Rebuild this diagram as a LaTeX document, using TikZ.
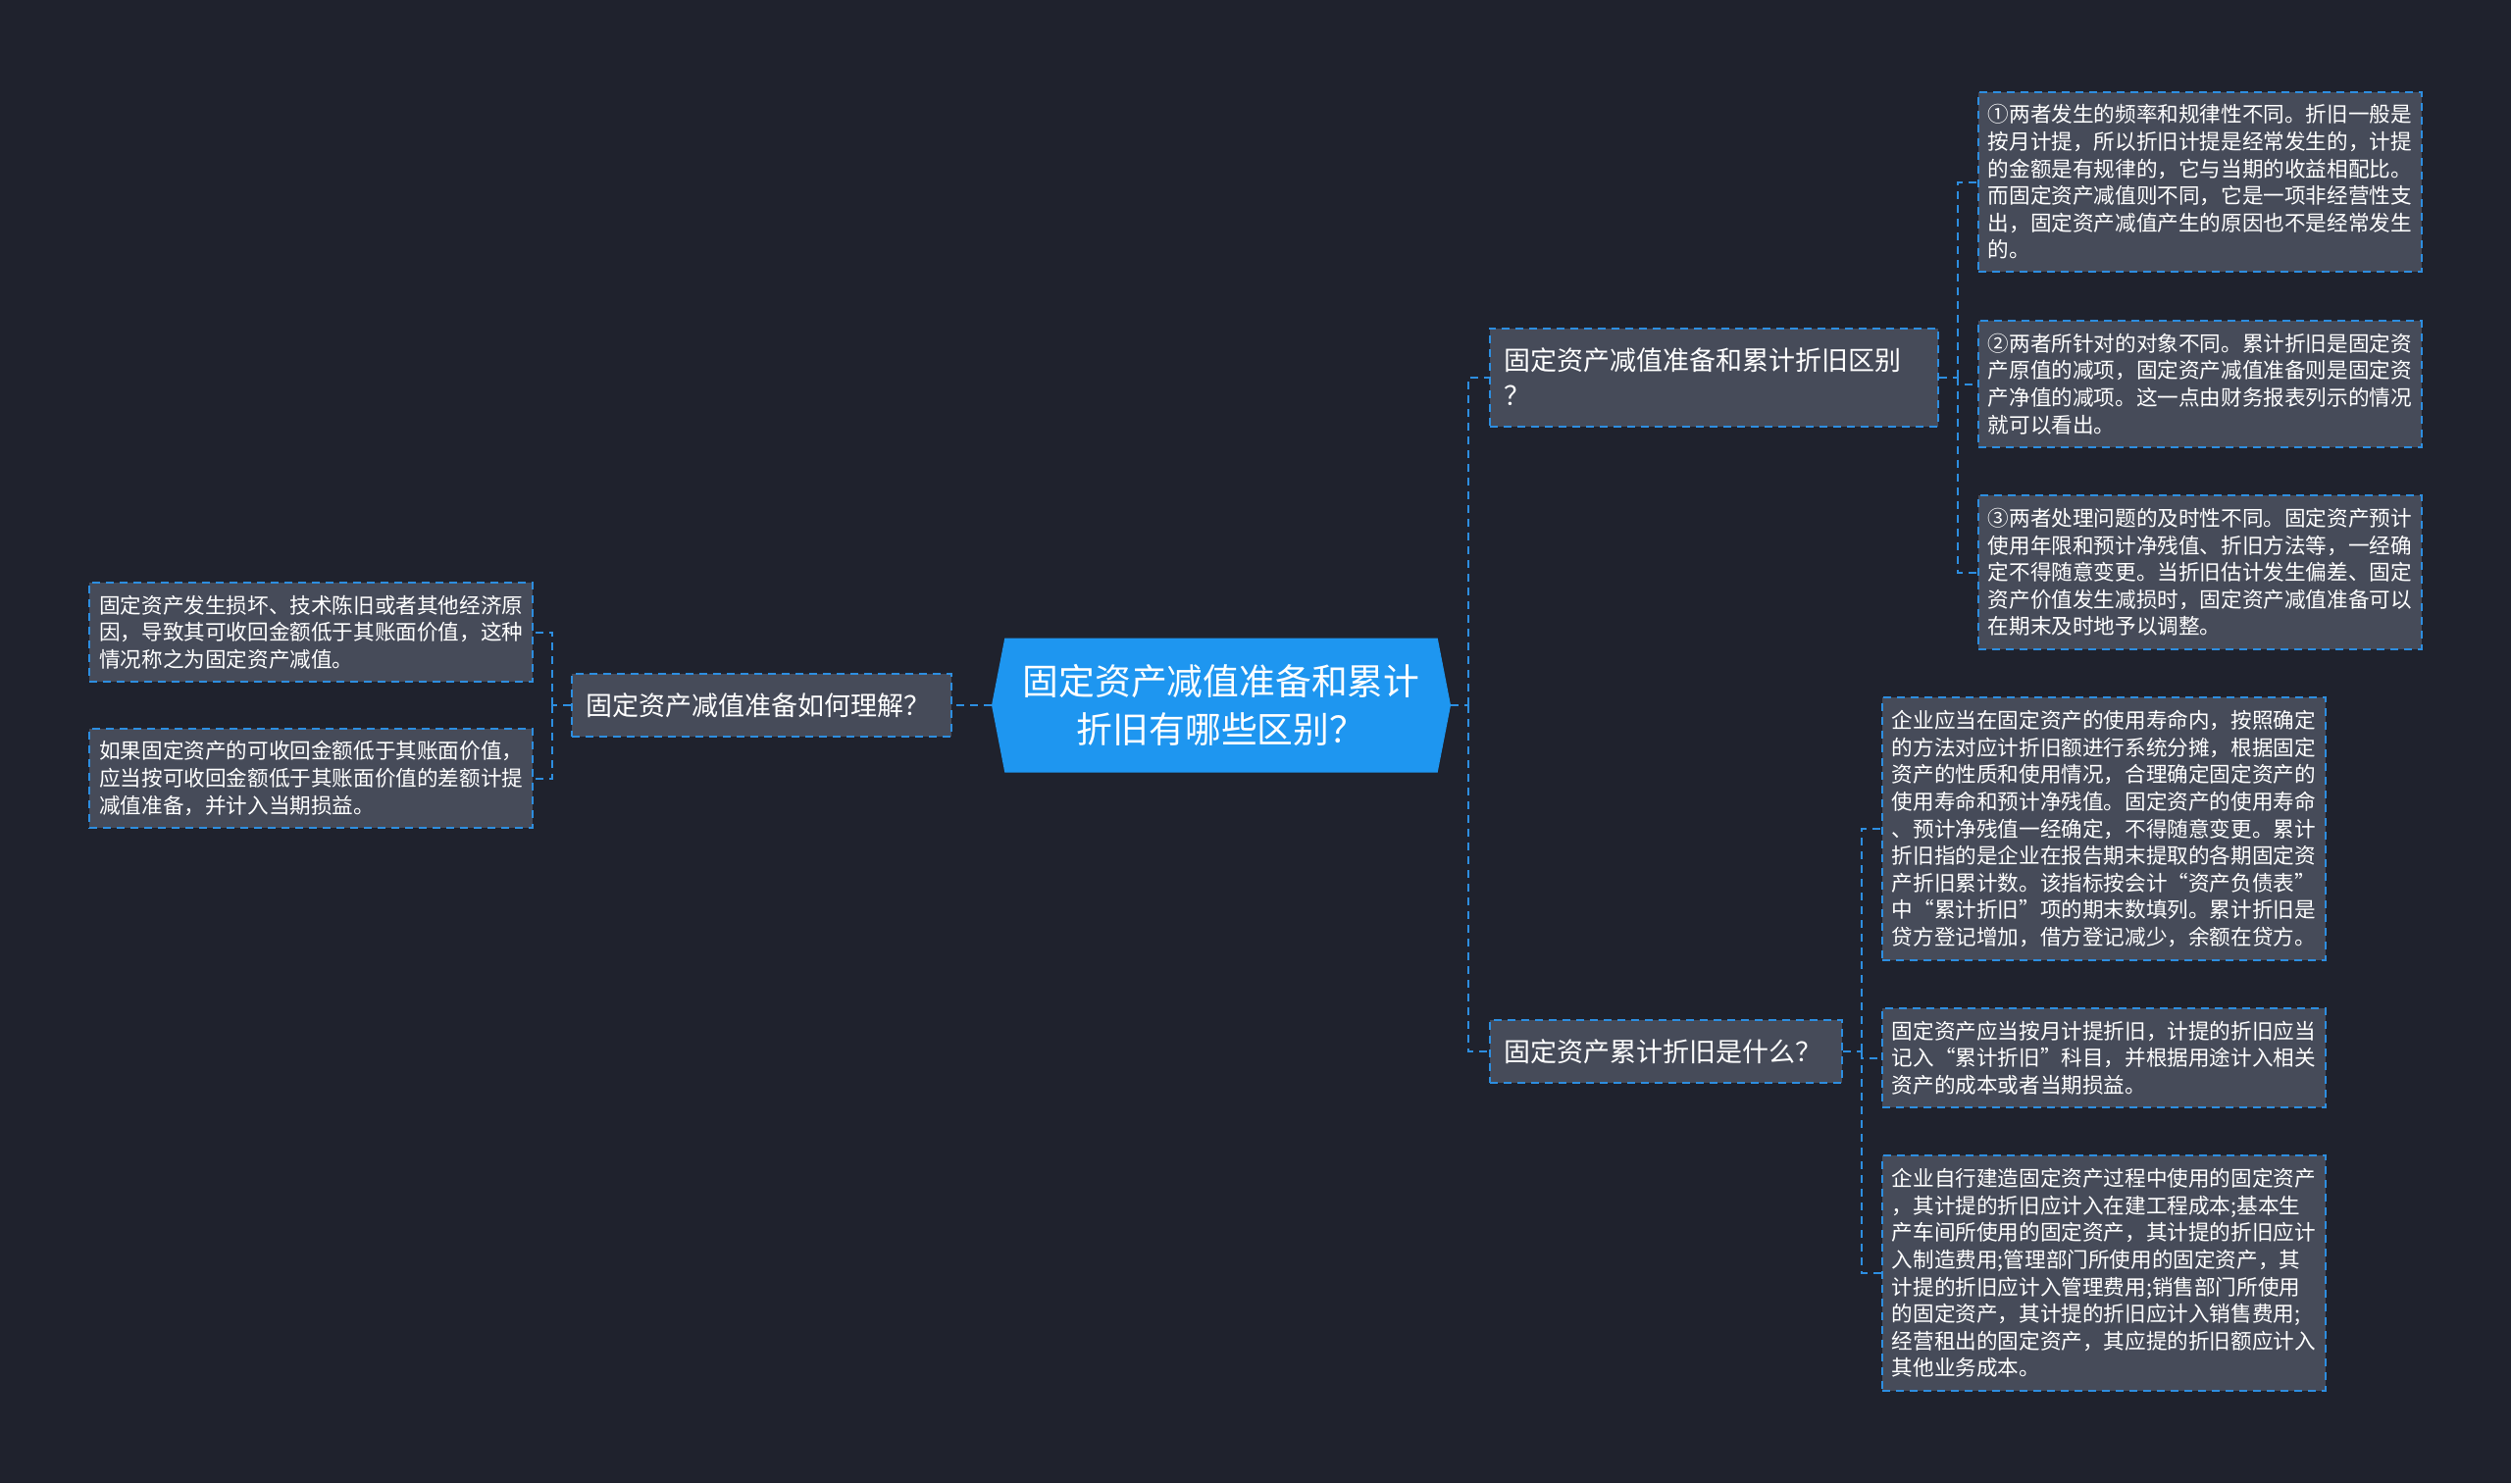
\documentclass[tikz,border=0pt]{standalone}
\usepackage{fontspec}
\setmainfont{Noto Sans CJK SC}
\usepackage{tikz}
\usetikzlibrary{shapes.symbols}
\definecolor{bgdark}{HTML}{1F222D}\definecolor{nodegrey}{HTML}{464B59}
\definecolor{lineblue}{HTML}{2D8EE0}\definecolor{rootblue}{HTML}{1E96F0}
\tikzset{every node/.style={text=white},
topic/.style={shape=signal,signal to=east and west,signal pointer angle=158,fill=rootblue,minimum width=234pt,minimum height=68.5pt,inner sep=2pt,align=center,font=\fontsize{18.4}{24.5}\selectfont},
branch/.style={fill=nodegrey,draw=lineblue,line width=1pt,dash pattern=on 4pt off 3pt,inner xsep=7.3pt,inner ysep=7.7pt,minimum height=32pt,align=left,font=\fontsize{13.5}{18}\selectfont},
leaf/.style={fill=nodegrey,draw=lineblue,line width=1pt,dash pattern=on 4pt off 3pt,inner xsep=4.9pt,inner ysep=6.5pt,text width=216pt,align=left,font=\fontsize{10.8}{13.8}\selectfont},
link/.style={draw=lineblue,line width=1pt,dash pattern=on 4pt off 3pt}}
\begin{document}
\begin{tikzpicture}[x=1pt,y=-1pt]
\fill[bgdark] (0,0) rectangle (1280,756);\useasboundingbox (0,0) rectangle (1280,756);
\node[topic] (root) at (622.5,359.5) {固定资产减值准备和累计\\折旧有哪些区别？};
% left side
\node[branch,text width=179pt,anchor=east] (bl) at (485.5,359.5) {固定资产减值准备如何理解？};
\node[leaf,anchor=east] (l1) at (272,322.25) {固定资产发生损坏、技术陈旧或者其他经济原\\因，导致其可收回金额低于其账面价值，这种\\情况称之为固定资产减值。};
\node[leaf,anchor=east] (l2) at (272,396.75) {如果固定资产的可收回金额低于其账面价值，\\应当按可收回金额低于其账面价值的差额计提\\减值准备，并计入当期损益。};
\draw[link] (root.west) -- (bl.east);\coordinate (lj) at (281.5,359.5);\draw[link] (bl.west) -- (lj);
\draw[link] (lj) |- (l1.east);\draw[link] (lj) |- (l2.east);
% right side
\node[branch,text width=214pt,minimum height=50pt,anchor=west] (br1) at (759,192.25) {固定资产减值准备和累计折旧区别\\？};
\node[branch,text width=165pt,anchor=west] (br2) at (759,536) {固定资产累计折旧是什么？};
\coordinate (rj) at (748.5,359.5);\draw[link] (root.east) -- (rj);\draw[link] (rj) |- (br1.west);\draw[link] (rj) |- (br2.west);
\node[leaf,anchor=west] (la) at (1008,92.75) {①两者发生的频率和规律性不同。折旧一般是\\按月计提，所以折旧计提是经常发生的，计提\\的金额是有规律的，它与当期的收益相配比。\\而固定资产减值则不同，它是一项非经营性支\\出，固定资产减值产生的原因也不是经常发生\\的。};
\node[leaf,anchor=west] (lb) at (1008,195.75) {②两者所针对的对象不同。累计折旧是固定资\\产原值的减项，固定资产减值准备则是固定资\\产净值的减项。这一点由财务报表列示的情况\\就可以看出。};
\node[leaf,anchor=west] (lc) at (1008,291.75) {③两者处理问题的及时性不同。固定资产预计\\使用年限和预计净残值、折旧方法等，一经确\\定不得随意变更。当折旧估计发生偏差、固定\\资产价值发生减损时，固定资产减值准备可以\\在期末及时地予以调整。};
\draw[link] (br1.east) -- ++(9.5,0) coordinate (r1j);\draw[link] (r1j) |- (la.west);\draw[link] (r1j) |- (lb.west);\draw[link] (r1j) |- (lc.west);
\node[leaf,anchor=west] (ld) at (959,422.5) {企业应当在固定资产的使用寿命内，按照确定\\的方法对应计折旧额进行系统分摊，根据固定\\资产的性质和使用情况，合理确定固定资产的\\使用寿命和预计净残值。固定资产的使用寿命\\、预计净残值一经确定，不得随意变更。累计\\折旧指的是企业在报告期末提取的各期固定资\\产折旧累计数。该指标按会计“资产负债表”\\中“累计折旧”项的期末数填列。累计折旧是\\贷方登记增加，借方登记减少，余额在贷方。};
\node[leaf,anchor=west] (le) at (959,539.25) {固定资产应当按月计提折旧，计提的折旧应当\\记入“累计折旧”科目，并根据用途计入相关\\资产的成本或者当期损益。};
\node[leaf,anchor=west] (lf) at (959,649) {企业自行建造固定资产过程中使用的固定资产\\，其计提的折旧应计入在建工程成本;基本生\\产车间所使用的固定资产，其计提的折旧应计\\入制造费用;管理部门所使用的固定资产，其\\计提的折旧应计入管理费用;销售部门所使用\\的固定资产，其计提的折旧应计入销售费用;\\经营租出的固定资产，其应提的折旧额应计入\\其他业务成本。};
\draw[link] (br2.east) -- ++(9.5,0) coordinate (r2j);\draw[link] (r2j) |- (ld.west);\draw[link] (r2j) |- (le.west);\draw[link] (r2j) |- (lf.west);
\end{tikzpicture}
\end{document}
